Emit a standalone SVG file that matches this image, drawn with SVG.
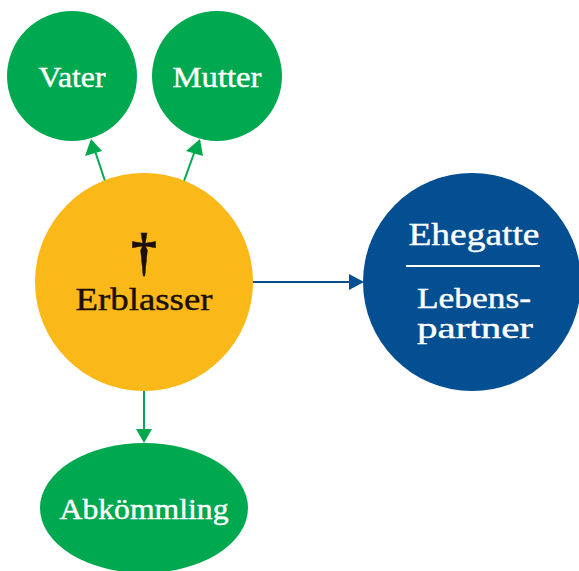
<svg xmlns="http://www.w3.org/2000/svg" width="579" height="571" viewBox="0 0 579 571">
<style>
.g{fill:#00A84F}
.t{font-family:"Liberation Serif","DejaVu Serif",serif;font-size:29px;text-anchor:middle;stroke-width:0.4}
.w{fill:#fff;stroke:#fff}
.k{fill:#1a0f0a;stroke:#1a0f0a}
.cg{stroke:#00A84F;stroke-width:2;fill:none}
.cb{stroke:#034F91;stroke-width:2;fill:none}
</style>
<g id="connectors">
<line class="cg" x1="105" y1="181" x2="93" y2="145"/>
<path d="M91,139 L85,156 L102,151z" fill="#00A84F"/>
<line class="cg" x1="184" y1="181" x2="197" y2="145"/>
<path d="M200,139 L186,151 L203,156z" fill="#00A84F"/>
<line class="cb" x1="252" y1="282" x2="352" y2="282"/>
<path d="M364,282 L349,274 L349,290z" fill="#034F91"/>
<line class="cg" x1="144" y1="390" x2="144" y2="431"/>
<path d="M144,443 L136,429 L152,429z" fill="#00A84F"/>
</g>
<g id="vater">
<circle class="g" cx="72" cy="76" r="65"/>
<text class="t w" x="72" y="87" textLength="67" lengthAdjust="spacingAndGlyphs">Vater</text>
</g>
<g id="mutter">
<circle class="g" cx="217" cy="76" r="65"/>
<text class="t w" x="217" y="87" textLength="89" lengthAdjust="spacingAndGlyphs">Mutter</text>
</g>
<g id="erblasser">
<circle cx="144" cy="282" r="109" fill="#FBB819"/>
<text class="t k" x="144" y="270" style="font-size:52px;font-weight:bold">†</text>
<text class="t k" x="144" y="310" textLength="137" lengthAdjust="spacingAndGlyphs" style="font-size:31px">Erblasser</text>
</g>
<g id="ehegatte">
<circle cx="472" cy="282" r="109" fill="#034F91"/>
<text class="t w" x="474" y="245" textLength="131" lengthAdjust="spacingAndGlyphs" style="font-size:31px">Ehegatte</text>
<line x1="406" y1="266" x2="540" y2="266" stroke="#fff" stroke-width="2"/>
<text class="t w" x="474" y="308" textLength="114" lengthAdjust="spacingAndGlyphs" style="font-size:30px">Lebens-</text>
<text class="t w" x="475" y="338" textLength="116" lengthAdjust="spacingAndGlyphs" style="font-size:30px">partner</text>
</g>
<g id="abkoemmling">
<ellipse class="g" cx="144" cy="508" rx="104" ry="65"/>
<text class="t w" x="144" y="519" textLength="169" lengthAdjust="spacingAndGlyphs" style="font-size:29px">Abkömmling</text>
</g>
</svg>
